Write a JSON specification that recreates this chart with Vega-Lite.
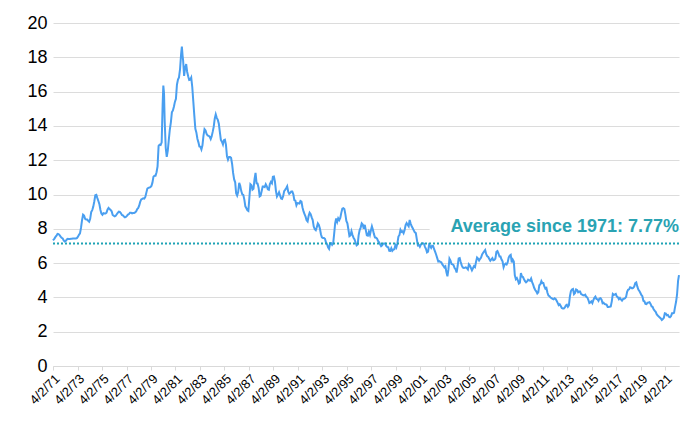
{
"$schema": "https://vega.github.io/schema/vega-lite/v6.json",
"width": 626, "height": 343,
"autosize": {"type": "none"},
"padding": {"left": 53, "top": 23, "right": 3, "bottom": 64},
"background": "white",
"config": {"view": {"stroke": null}, "font": "Liberation Sans"},
"datasets": {
"rates": [
{"d":"1971-04-02","v":7.33},{"d":"1971-05-15","v":7.43},{"d":"1971-06-15","v":7.53},{"d":"1971-07-15","v":7.60},{"d":"1971-08-15","v":7.70},{"d":"1971-09-15","v":7.69},{"d":"1971-10-15","v":7.63},{"d":"1971-11-15","v":7.55},{"d":"1971-12-15","v":7.48},
{"d":"1972-01-15","v":7.44},{"d":"1972-02-15","v":7.32},{"d":"1972-03-15","v":7.26},{"d":"1972-04-15","v":7.29},{"d":"1972-05-15","v":7.37},{"d":"1972-06-15","v":7.41},{"d":"1972-07-15","v":7.40},{"d":"1972-08-15","v":7.40},{"d":"1972-09-15","v":7.42},{"d":"1972-10-15","v":7.42},{"d":"1972-11-15","v":7.43},{"d":"1972-12-15","v":7.44},
{"d":"1973-01-15","v":7.44},{"d":"1973-02-15","v":7.44},{"d":"1973-03-15","v":7.46},{"d":"1973-04-15","v":7.54},{"d":"1973-05-15","v":7.65},{"d":"1973-06-15","v":7.73},{"d":"1973-07-15","v":8.05},{"d":"1973-08-15","v":8.50},{"d":"1973-09-15","v":8.82},{"d":"1973-10-15","v":8.77},{"d":"1973-11-15","v":8.58},{"d":"1973-12-15","v":8.54},
{"d":"1974-01-15","v":8.54},{"d":"1974-02-15","v":8.46},{"d":"1974-03-15","v":8.41},{"d":"1974-04-15","v":8.58},{"d":"1974-05-15","v":8.97},{"d":"1974-06-15","v":9.09},{"d":"1974-07-15","v":9.28},{"d":"1974-08-15","v":9.59},{"d":"1974-09-15","v":9.96},{"d":"1974-10-15","v":9.98},{"d":"1974-11-15","v":9.79},{"d":"1974-12-15","v":9.62},
{"d":"1975-01-15","v":9.43},{"d":"1975-02-15","v":9.10},{"d":"1975-03-15","v":8.89},{"d":"1975-04-15","v":8.82},{"d":"1975-05-15","v":8.91},{"d":"1975-06-15","v":8.89},{"d":"1975-07-15","v":8.89},{"d":"1975-08-15","v":8.94},{"d":"1975-09-15","v":9.13},{"d":"1975-10-15","v":9.22},{"d":"1975-11-15","v":9.15},{"d":"1975-12-15","v":9.10},
{"d":"1976-01-15","v":9.02},{"d":"1976-02-15","v":8.81},{"d":"1976-03-15","v":8.76},{"d":"1976-04-15","v":8.73},{"d":"1976-05-15","v":8.76},{"d":"1976-06-15","v":8.85},{"d":"1976-07-15","v":8.93},{"d":"1976-08-15","v":9.00},{"d":"1976-09-15","v":8.98},{"d":"1976-10-15","v":8.92},{"d":"1976-11-15","v":8.81},{"d":"1976-12-15","v":8.79},
{"d":"1977-01-15","v":8.72},{"d":"1977-02-15","v":8.67},{"d":"1977-03-15","v":8.69},{"d":"1977-04-15","v":8.75},{"d":"1977-05-15","v":8.83},{"d":"1977-06-15","v":8.86},{"d":"1977-07-15","v":8.94},{"d":"1977-08-15","v":8.94},{"d":"1977-09-15","v":8.90},{"d":"1977-10-15","v":8.92},{"d":"1977-11-15","v":8.92},{"d":"1977-12-15","v":8.96},
{"d":"1978-01-15","v":9.01},{"d":"1978-02-15","v":9.15},{"d":"1978-03-15","v":9.20},{"d":"1978-04-15","v":9.35},{"d":"1978-05-15","v":9.57},{"d":"1978-06-15","v":9.71},{"d":"1978-07-15","v":9.74},{"d":"1978-08-15","v":9.78},{"d":"1978-09-15","v":9.76},{"d":"1978-10-15","v":9.86},{"d":"1978-11-15","v":10.11},{"d":"1978-12-15","v":10.35},
{"d":"1979-01-15","v":10.39},{"d":"1979-02-15","v":10.41},{"d":"1979-03-15","v":10.43},{"d":"1979-04-15","v":10.50},{"d":"1979-05-15","v":10.69},{"d":"1979-06-15","v":11.04},{"d":"1979-07-15","v":11.09},{"d":"1979-08-15","v":11.09},{"d":"1979-09-15","v":11.30},{"d":"1979-10-15","v":11.64},{"d":"1979-11-15","v":12.83},{"d":"1979-12-15","v":12.90},
{"d":"1980-01-15","v":12.88},{"d":"1980-02-15","v":13.04},{"d":"1980-03-15","v":15.28},{"d":"1980-04-04","v":16.35},{"d":"1980-04-25","v":15.90},{"d":"1980-05-15","v":14.26},{"d":"1980-06-15","v":12.71},{"d":"1980-07-15","v":12.19},{"d":"1980-08-15","v":12.56},{"d":"1980-09-15","v":13.20},{"d":"1980-10-15","v":13.79},{"d":"1980-11-15","v":14.21},{"d":"1980-12-15","v":14.79},
{"d":"1981-01-15","v":14.90},{"d":"1981-02-15","v":15.13},{"d":"1981-03-15","v":15.40},{"d":"1981-04-15","v":15.58},{"d":"1981-05-15","v":16.40},{"d":"1981-06-15","v":16.70},{"d":"1981-07-15","v":16.83},{"d":"1981-08-15","v":17.29},{"d":"1981-09-15","v":18.16},{"d":"1981-10-09","v":18.63},{"d":"1981-10-30","v":18.10},{"d":"1981-11-15","v":17.83},{"d":"1981-12-15","v":16.92},
{"d":"1982-01-15","v":17.40},{"d":"1982-02-15","v":17.60},{"d":"1982-03-15","v":17.16},{"d":"1982-04-15","v":16.89},{"d":"1982-05-15","v":16.68},{"d":"1982-06-15","v":16.70},{"d":"1982-07-15","v":16.82},{"d":"1982-08-15","v":16.27},{"d":"1982-09-15","v":15.43},{"d":"1982-10-15","v":14.61},{"d":"1982-11-15","v":13.83},{"d":"1982-12-15","v":13.62},
{"d":"1983-01-15","v":13.25},{"d":"1983-02-15","v":13.04},{"d":"1983-03-15","v":12.80},{"d":"1983-04-15","v":12.78},{"d":"1983-05-15","v":12.63},{"d":"1983-06-15","v":12.87},{"d":"1983-07-15","v":13.42},{"d":"1983-08-15","v":13.81},{"d":"1983-09-15","v":13.73},{"d":"1983-10-15","v":13.54},{"d":"1983-11-15","v":13.44},{"d":"1983-12-15","v":13.42},
{"d":"1984-01-15","v":13.37},{"d":"1984-02-15","v":13.23},{"d":"1984-03-15","v":13.39},{"d":"1984-04-15","v":13.65},{"d":"1984-05-15","v":13.94},{"d":"1984-06-15","v":14.42},{"d":"1984-07-15","v":14.67},{"d":"1984-08-15","v":14.47},{"d":"1984-09-15","v":14.35},{"d":"1984-10-15","v":14.13},{"d":"1984-11-15","v":13.64},{"d":"1984-12-15","v":13.18},
{"d":"1985-01-15","v":13.08},{"d":"1985-02-15","v":12.92},{"d":"1985-03-15","v":13.17},{"d":"1985-04-15","v":13.20},{"d":"1985-05-15","v":12.91},{"d":"1985-06-15","v":12.22},{"d":"1985-07-15","v":12.03},{"d":"1985-08-15","v":12.19},{"d":"1985-09-15","v":12.19},{"d":"1985-10-15","v":12.14},{"d":"1985-11-15","v":11.78},{"d":"1985-12-15","v":11.26},
{"d":"1986-01-15","v":10.88},{"d":"1986-02-15","v":10.71},{"d":"1986-03-15","v":10.08},{"d":"1986-04-15","v":9.94},{"d":"1986-05-15","v":10.14},{"d":"1986-06-15","v":10.68},{"d":"1986-07-15","v":10.51},{"d":"1986-08-15","v":10.20},{"d":"1986-09-15","v":10.01},{"d":"1986-10-15","v":9.98},{"d":"1986-11-15","v":9.70},{"d":"1986-12-15","v":9.31},
{"d":"1987-01-15","v":9.20},{"d":"1987-02-15","v":9.08},{"d":"1987-03-15","v":9.04},{"d":"1987-04-15","v":9.83},{"d":"1987-05-15","v":10.60},{"d":"1987-06-15","v":10.54},{"d":"1987-07-15","v":10.28},{"d":"1987-08-15","v":10.33},{"d":"1987-09-15","v":10.89},{"d":"1987-10-15","v":11.26},{"d":"1987-11-15","v":10.65},{"d":"1987-12-15","v":10.64},
{"d":"1988-01-15","v":10.38},{"d":"1988-02-15","v":9.89},{"d":"1988-03-15","v":9.93},{"d":"1988-04-15","v":10.20},{"d":"1988-05-15","v":10.46},{"d":"1988-06-15","v":10.46},{"d":"1988-07-15","v":10.43},{"d":"1988-08-15","v":10.60},{"d":"1988-09-15","v":10.48},{"d":"1988-10-15","v":10.30},{"d":"1988-11-15","v":10.27},{"d":"1988-12-15","v":10.61},
{"d":"1989-01-15","v":10.73},{"d":"1989-02-15","v":10.65},{"d":"1989-03-15","v":11.03},{"d":"1989-04-15","v":11.05},{"d":"1989-05-15","v":10.77},{"d":"1989-06-15","v":10.20},{"d":"1989-07-15","v":9.88},{"d":"1989-08-15","v":9.99},{"d":"1989-09-15","v":10.13},{"d":"1989-10-15","v":9.95},{"d":"1989-11-15","v":9.77},{"d":"1989-12-15","v":9.74},
{"d":"1990-01-15","v":9.90},{"d":"1990-02-15","v":10.20},{"d":"1990-03-15","v":10.27},{"d":"1990-04-15","v":10.37},{"d":"1990-05-15","v":10.48},{"d":"1990-06-15","v":10.16},{"d":"1990-07-15","v":10.04},{"d":"1990-08-15","v":10.10},{"d":"1990-09-15","v":10.18},{"d":"1990-10-15","v":10.18},{"d":"1990-11-15","v":10.01},{"d":"1990-12-15","v":9.67},
{"d":"1991-01-15","v":9.64},{"d":"1991-02-15","v":9.37},{"d":"1991-03-15","v":9.50},{"d":"1991-04-15","v":9.49},{"d":"1991-05-15","v":9.47},{"d":"1991-06-15","v":9.62},{"d":"1991-07-15","v":9.58},{"d":"1991-08-15","v":9.24},{"d":"1991-09-15","v":9.01},{"d":"1991-10-15","v":8.86},{"d":"1991-11-15","v":8.71},{"d":"1991-12-15","v":8.50},
{"d":"1992-01-15","v":8.43},{"d":"1992-02-15","v":8.76},{"d":"1992-03-15","v":8.94},{"d":"1992-04-15","v":8.85},{"d":"1992-05-15","v":8.67},{"d":"1992-06-15","v":8.51},{"d":"1992-07-15","v":8.13},{"d":"1992-08-15","v":7.98},{"d":"1992-09-15","v":7.92},{"d":"1992-10-15","v":8.09},{"d":"1992-11-15","v":8.31},{"d":"1992-12-15","v":8.22},
{"d":"1993-01-15","v":8.02},{"d":"1993-02-15","v":7.68},{"d":"1993-03-15","v":7.50},{"d":"1993-04-15","v":7.47},{"d":"1993-05-15","v":7.47},{"d":"1993-06-15","v":7.42},{"d":"1993-07-15","v":7.21},{"d":"1993-08-15","v":7.11},{"d":"1993-09-15","v":6.92},{"d":"1993-10-15","v":6.83},{"d":"1993-11-15","v":7.16},{"d":"1993-12-15","v":7.17},
{"d":"1994-01-15","v":7.06},{"d":"1994-02-15","v":7.15},{"d":"1994-03-15","v":7.68},{"d":"1994-04-15","v":8.32},{"d":"1994-05-15","v":8.60},{"d":"1994-06-15","v":8.40},{"d":"1994-07-15","v":8.61},{"d":"1994-08-15","v":8.51},{"d":"1994-09-15","v":8.64},{"d":"1994-10-15","v":8.93},{"d":"1994-11-15","v":9.17},{"d":"1994-12-15","v":9.20},
{"d":"1995-01-15","v":9.15},{"d":"1995-02-15","v":8.83},{"d":"1995-03-15","v":8.46},{"d":"1995-04-15","v":8.32},{"d":"1995-05-15","v":7.96},{"d":"1995-06-15","v":7.57},{"d":"1995-07-15","v":7.61},{"d":"1995-08-15","v":7.86},{"d":"1995-09-15","v":7.64},{"d":"1995-10-15","v":7.48},{"d":"1995-11-15","v":7.38},{"d":"1995-12-15","v":7.20},
{"d":"1996-01-15","v":7.03},{"d":"1996-02-15","v":7.08},{"d":"1996-03-15","v":7.62},{"d":"1996-04-15","v":7.93},{"d":"1996-05-15","v":8.07},{"d":"1996-06-15","v":8.32},{"d":"1996-07-15","v":8.25},{"d":"1996-08-15","v":8.00},{"d":"1996-09-15","v":8.23},{"d":"1996-10-15","v":7.92},{"d":"1996-11-15","v":7.62},{"d":"1996-12-15","v":7.60},
{"d":"1997-01-15","v":7.82},{"d":"1997-02-15","v":7.65},{"d":"1997-03-15","v":7.90},{"d":"1997-04-15","v":8.14},{"d":"1997-05-15","v":7.94},{"d":"1997-06-15","v":7.69},{"d":"1997-07-15","v":7.50},{"d":"1997-08-15","v":7.48},{"d":"1997-09-15","v":7.43},{"d":"1997-10-15","v":7.29},{"d":"1997-11-15","v":7.21},{"d":"1997-12-15","v":7.10},
{"d":"1998-01-15","v":6.99},{"d":"1998-02-15","v":7.04},{"d":"1998-03-15","v":7.13},{"d":"1998-04-15","v":7.14},{"d":"1998-05-15","v":7.14},{"d":"1998-06-15","v":7.00},{"d":"1998-07-15","v":6.95},{"d":"1998-08-15","v":6.92},{"d":"1998-09-15","v":6.72},{"d":"1998-10-15","v":6.71},{"d":"1998-11-15","v":6.87},{"d":"1998-12-15","v":6.72},
{"d":"1999-01-15","v":6.79},{"d":"1999-02-15","v":6.81},{"d":"1999-03-15","v":7.04},{"d":"1999-04-15","v":6.92},{"d":"1999-05-15","v":7.15},{"d":"1999-06-15","v":7.55},{"d":"1999-07-15","v":7.63},{"d":"1999-08-15","v":7.94},{"d":"1999-09-15","v":7.82},{"d":"1999-10-15","v":7.85},{"d":"1999-11-15","v":7.74},{"d":"1999-12-15","v":7.91},
{"d":"2000-01-15","v":8.21},{"d":"2000-02-15","v":8.33},{"d":"2000-03-15","v":8.24},{"d":"2000-04-15","v":8.15},{"d":"2000-05-15","v":8.52},{"d":"2000-06-15","v":8.29},{"d":"2000-07-15","v":8.15},{"d":"2000-08-15","v":8.03},{"d":"2000-09-15","v":7.91},{"d":"2000-10-15","v":7.80},{"d":"2000-11-15","v":7.75},{"d":"2000-12-15","v":7.38},
{"d":"2001-01-15","v":7.03},{"d":"2001-02-15","v":7.05},{"d":"2001-03-15","v":6.95},{"d":"2001-04-15","v":7.08},{"d":"2001-05-15","v":7.15},{"d":"2001-06-15","v":7.16},{"d":"2001-07-15","v":7.13},{"d":"2001-08-15","v":6.95},{"d":"2001-09-15","v":6.82},{"d":"2001-10-15","v":6.62},{"d":"2001-11-15","v":6.66},{"d":"2001-12-15","v":7.07},
{"d":"2002-01-15","v":7.00},{"d":"2002-02-15","v":6.89},{"d":"2002-03-15","v":7.01},{"d":"2002-04-15","v":6.99},{"d":"2002-05-15","v":6.81},{"d":"2002-06-15","v":6.65},{"d":"2002-07-15","v":6.49},{"d":"2002-08-15","v":6.29},{"d":"2002-09-15","v":6.09},{"d":"2002-10-15","v":6.11},{"d":"2002-11-15","v":6.07},{"d":"2002-12-15","v":6.05},
{"d":"2003-01-15","v":5.92},{"d":"2003-02-15","v":5.84},{"d":"2003-03-15","v":5.75},{"d":"2003-04-15","v":5.81},{"d":"2003-05-15","v":5.48},{"d":"2003-06-15","v":5.23},{"d":"2003-07-15","v":5.63},{"d":"2003-08-15","v":6.26},{"d":"2003-09-15","v":6.15},{"d":"2003-10-15","v":5.95},{"d":"2003-11-15","v":5.93},{"d":"2003-12-15","v":5.88},
{"d":"2004-01-15","v":5.71},{"d":"2004-02-15","v":5.64},{"d":"2004-03-15","v":5.45},{"d":"2004-04-15","v":5.83},{"d":"2004-05-15","v":6.27},{"d":"2004-06-15","v":6.29},{"d":"2004-07-15","v":6.06},{"d":"2004-08-15","v":5.87},{"d":"2004-09-15","v":5.75},{"d":"2004-10-15","v":5.72},{"d":"2004-11-15","v":5.73},{"d":"2004-12-15","v":5.75},
{"d":"2005-01-15","v":5.71},{"d":"2005-02-15","v":5.63},{"d":"2005-03-15","v":5.93},{"d":"2005-04-15","v":5.86},{"d":"2005-05-15","v":5.72},{"d":"2005-06-15","v":5.58},{"d":"2005-07-15","v":5.70},{"d":"2005-08-15","v":5.82},{"d":"2005-09-15","v":5.77},{"d":"2005-10-15","v":6.07},{"d":"2005-11-15","v":6.33},{"d":"2005-12-15","v":6.27},
{"d":"2006-01-15","v":6.15},{"d":"2006-02-15","v":6.25},{"d":"2006-03-15","v":6.32},{"d":"2006-04-15","v":6.51},{"d":"2006-05-15","v":6.60},{"d":"2006-06-15","v":6.68},{"d":"2006-07-15","v":6.76},{"d":"2006-08-15","v":6.52},{"d":"2006-09-15","v":6.40},{"d":"2006-10-15","v":6.36},{"d":"2006-11-15","v":6.24},{"d":"2006-12-15","v":6.14},
{"d":"2007-01-15","v":6.22},{"d":"2007-02-15","v":6.29},{"d":"2007-03-15","v":6.16},{"d":"2007-04-15","v":6.18},{"d":"2007-05-15","v":6.26},{"d":"2007-06-15","v":6.66},{"d":"2007-07-15","v":6.70},{"d":"2007-08-15","v":6.57},{"d":"2007-09-15","v":6.38},{"d":"2007-10-15","v":6.38},{"d":"2007-11-15","v":6.21},{"d":"2007-12-15","v":6.10},
{"d":"2008-01-15","v":5.76},{"d":"2008-02-15","v":5.92},{"d":"2008-03-15","v":5.97},{"d":"2008-04-15","v":5.92},{"d":"2008-05-15","v":6.04},{"d":"2008-06-15","v":6.32},{"d":"2008-07-15","v":6.43},{"d":"2008-08-15","v":6.48},{"d":"2008-09-15","v":6.04},{"d":"2008-10-15","v":6.20},{"d":"2008-11-15","v":6.09},{"d":"2008-12-15","v":5.29},
{"d":"2009-01-15","v":5.06},{"d":"2009-02-15","v":5.13},{"d":"2009-03-15","v":5.00},{"d":"2009-04-15","v":4.81},{"d":"2009-05-15","v":4.86},{"d":"2009-06-15","v":5.42},{"d":"2009-07-15","v":5.22},{"d":"2009-08-15","v":5.19},{"d":"2009-09-15","v":5.06},{"d":"2009-10-15","v":4.95},{"d":"2009-11-15","v":4.88},{"d":"2009-12-15","v":4.93},
{"d":"2010-01-15","v":5.03},{"d":"2010-02-15","v":4.99},{"d":"2010-03-15","v":4.97},{"d":"2010-04-15","v":5.10},{"d":"2010-05-15","v":4.89},{"d":"2010-06-15","v":4.74},{"d":"2010-07-15","v":4.56},{"d":"2010-08-15","v":4.43},{"d":"2010-09-15","v":4.35},{"d":"2010-10-15","v":4.23},{"d":"2010-11-15","v":4.30},{"d":"2010-12-15","v":4.71},
{"d":"2011-01-15","v":4.76},{"d":"2011-02-15","v":4.95},{"d":"2011-03-15","v":4.84},{"d":"2011-04-15","v":4.84},{"d":"2011-05-15","v":4.64},{"d":"2011-06-15","v":4.51},{"d":"2011-07-15","v":4.55},{"d":"2011-08-15","v":4.27},{"d":"2011-09-15","v":4.11},{"d":"2011-10-15","v":4.07},{"d":"2011-11-15","v":3.99},{"d":"2011-12-15","v":3.96},
{"d":"2012-01-15","v":3.92},{"d":"2012-02-15","v":3.89},{"d":"2012-03-15","v":3.95},{"d":"2012-04-15","v":3.91},{"d":"2012-05-15","v":3.80},{"d":"2012-06-15","v":3.68},{"d":"2012-07-15","v":3.55},{"d":"2012-08-15","v":3.60},{"d":"2012-09-15","v":3.50},{"d":"2012-10-15","v":3.38},{"d":"2012-11-15","v":3.35},{"d":"2012-12-15","v":3.35},
{"d":"2013-01-15","v":3.41},{"d":"2013-02-15","v":3.53},{"d":"2013-03-15","v":3.57},{"d":"2013-04-15","v":3.45},{"d":"2013-05-15","v":3.54},{"d":"2013-06-15","v":4.07},{"d":"2013-07-15","v":4.37},{"d":"2013-08-15","v":4.46},{"d":"2013-09-15","v":4.49},{"d":"2013-10-15","v":4.19},{"d":"2013-11-15","v":4.26},{"d":"2013-12-15","v":4.46},
{"d":"2014-01-15","v":4.43},{"d":"2014-02-15","v":4.30},{"d":"2014-03-15","v":4.34},{"d":"2014-04-15","v":4.34},{"d":"2014-05-15","v":4.19},{"d":"2014-06-15","v":4.16},{"d":"2014-07-15","v":4.13},{"d":"2014-08-15","v":4.12},{"d":"2014-09-15","v":4.16},{"d":"2014-10-15","v":4.04},{"d":"2014-11-15","v":4.00},{"d":"2014-12-15","v":3.86},
{"d":"2015-01-15","v":3.67},{"d":"2015-02-15","v":3.71},{"d":"2015-03-15","v":3.77},{"d":"2015-04-15","v":3.67},{"d":"2015-05-15","v":3.84},{"d":"2015-06-15","v":3.98},{"d":"2015-07-15","v":4.05},{"d":"2015-08-15","v":3.91},{"d":"2015-09-15","v":3.89},{"d":"2015-10-15","v":3.80},{"d":"2015-11-15","v":3.94},{"d":"2015-12-15","v":3.96},
{"d":"2016-01-15","v":3.87},{"d":"2016-02-15","v":3.66},{"d":"2016-03-15","v":3.69},{"d":"2016-04-15","v":3.61},{"d":"2016-05-15","v":3.60},{"d":"2016-06-15","v":3.57},{"d":"2016-07-15","v":3.44},{"d":"2016-08-15","v":3.44},{"d":"2016-09-15","v":3.46},{"d":"2016-10-15","v":3.47},{"d":"2016-11-15","v":3.77},{"d":"2016-12-15","v":4.20},
{"d":"2017-01-15","v":4.15},{"d":"2017-02-15","v":4.17},{"d":"2017-03-15","v":4.20},{"d":"2017-04-15","v":4.05},{"d":"2017-05-15","v":4.01},{"d":"2017-06-15","v":3.90},{"d":"2017-07-15","v":3.97},{"d":"2017-08-15","v":3.88},{"d":"2017-09-15","v":3.81},{"d":"2017-10-15","v":3.90},{"d":"2017-11-15","v":3.92},{"d":"2017-12-15","v":3.95},
{"d":"2018-01-15","v":4.03},{"d":"2018-02-15","v":4.33},{"d":"2018-03-15","v":4.44},{"d":"2018-04-15","v":4.47},{"d":"2018-05-15","v":4.59},{"d":"2018-06-15","v":4.57},{"d":"2018-07-15","v":4.53},{"d":"2018-08-15","v":4.55},{"d":"2018-09-15","v":4.63},{"d":"2018-10-15","v":4.83},{"d":"2018-11-15","v":4.87},{"d":"2018-12-15","v":4.64},
{"d":"2019-01-15","v":4.46},{"d":"2019-02-15","v":4.37},{"d":"2019-03-15","v":4.27},{"d":"2019-04-15","v":4.14},{"d":"2019-05-15","v":4.07},{"d":"2019-06-15","v":3.80},{"d":"2019-07-15","v":3.77},{"d":"2019-08-15","v":3.62},{"d":"2019-09-15","v":3.61},{"d":"2019-10-15","v":3.69},{"d":"2019-11-15","v":3.70},{"d":"2019-12-15","v":3.72},
{"d":"2020-01-15","v":3.62},{"d":"2020-02-15","v":3.47},{"d":"2020-03-15","v":3.45},{"d":"2020-04-15","v":3.31},{"d":"2020-05-15","v":3.23},{"d":"2020-06-15","v":3.16},{"d":"2020-07-15","v":3.02},{"d":"2020-08-15","v":2.94},{"d":"2020-09-15","v":2.89},{"d":"2020-10-15","v":2.83},{"d":"2020-11-15","v":2.77},{"d":"2020-12-15","v":2.68},
{"d":"2021-01-15","v":2.74},{"d":"2021-02-15","v":2.81},{"d":"2021-03-15","v":3.08},{"d":"2021-04-15","v":3.06},{"d":"2021-05-15","v":2.96},{"d":"2021-06-15","v":2.98},{"d":"2021-07-15","v":2.87},{"d":"2021-08-15","v":2.84},{"d":"2021-09-15","v":2.90},{"d":"2021-10-15","v":3.07},{"d":"2021-11-15","v":3.07},{"d":"2021-12-15","v":3.10},
{"d":"2022-01-15","v":3.45},{"d":"2022-02-15","v":3.76},{"d":"2022-03-15","v":4.17},{"d":"2022-04-15","v":4.98},{"d":"2022-05-12","v":5.30}
]
},
"layer": [
{
"data": {"values": [{"d":"2002-01-01","d2":"2022-05-12","v":7.55,"v2":8.6}]},
"mark": {"type": "rect", "fill": "white"},
"encoding": {
"x": {"field": "d", "type": "temporal"},
"x2": {"field": "d2"},
"y": {"field": "v", "type": "quantitative"},
"y2": {"field": "v2"}
}
},
{
"data": {"name": "rates"},
"mark": {"type": "line", "color": "#4a9ff0", "strokeWidth": 2, "interpolate": "linear"},
"encoding": {
"x": {"field": "d", "type": "temporal", "title": null,
"scale": {"type": "utc", "domain": [{"year":1971,"month":4,"date":2,"utc":true},{"year":2022,"month":5,"date":12,"utc":true}], "nice": false},
"axis": {"values": [
{"year":1971,"month":4,"date":2,"utc":true},{"year":1973,"month":4,"date":2,"utc":true},{"year":1975,"month":4,"date":2,"utc":true},{"year":1977,"month":4,"date":2,"utc":true},{"year":1979,"month":4,"date":2,"utc":true},{"year":1981,"month":4,"date":2,"utc":true},{"year":1983,"month":4,"date":2,"utc":true},{"year":1985,"month":4,"date":2,"utc":true},{"year":1987,"month":4,"date":2,"utc":true},{"year":1989,"month":4,"date":2,"utc":true},{"year":1991,"month":4,"date":2,"utc":true},{"year":1993,"month":4,"date":2,"utc":true},{"year":1995,"month":4,"date":2,"utc":true},{"year":1997,"month":4,"date":2,"utc":true},{"year":1999,"month":4,"date":2,"utc":true},{"year":2001,"month":4,"date":2,"utc":true},{"year":2003,"month":4,"date":2,"utc":true},{"year":2005,"month":4,"date":2,"utc":true},{"year":2007,"month":4,"date":2,"utc":true},{"year":2009,"month":4,"date":2,"utc":true},{"year":2011,"month":4,"date":2,"utc":true},{"year":2013,"month":4,"date":2,"utc":true},{"year":2015,"month":4,"date":2,"utc":true},{"year":2017,"month":4,"date":2,"utc":true},{"year":2019,"month":4,"date":2,"utc":true},{"year":2021,"month":4,"date":2,"utc":true}],
"tickCount": 40,
"format": "%-m/%-d/%y", "labelAngle": -45, "labelAlign": "right", "labelBaseline": "top",
"labelFontSize": 13, "labelColor": "#000000", "labelFont": "Liberation Sans", "labelPadding": 2,
"labelOverlap": false, "labelFlush": false,
"grid": false, "domain": true, "domainColor": "#d9d9d9", "ticks": true, "tickColor": "#d9d9d9", "tickSize": 4}},
"y": {"field": "v", "type": "quantitative", "title": null,
"scale": {"domain": [0, 20], "nice": false, "zero": true},
"axis": {"values": [0,2,4,6,8,10,12,14,16,18,20], "tickCount": 20, "grid": true, "gridColor": "#dcdcdc", "gridWidth": 1,
"labelOverlap": false,
"domain": false, "ticks": false, "labelFontSize": 18, "labelColor": "#000000", "labelFont": "Liberation Sans", "labelPadding": 6}}
}
},
{
"data": {"values": [{"v": 7.15}]},
"mark": {"type": "rule", "color": "#1fa3b5", "strokeWidth": 2, "strokeDash": [2, 2]},
"encoding": {"y": {"field": "v", "type": "quantitative"}}
},
{
"data": {"values": [{"d":"2022-05-12","v":7.83,"t":"Average since 1971: 7.77%"}]},
"mark": {"type": "text", "align": "right", "baseline": "alphabetic", "fontSize": 18, "fontWeight": "bold", "font": "Liberation Sans", "color": "#2aa3b3"},
"encoding": {
"x": {"field": "d", "type": "temporal"},
"y": {"field": "v", "type": "quantitative"},
"text": {"field": "t"}
}
}
]
}
